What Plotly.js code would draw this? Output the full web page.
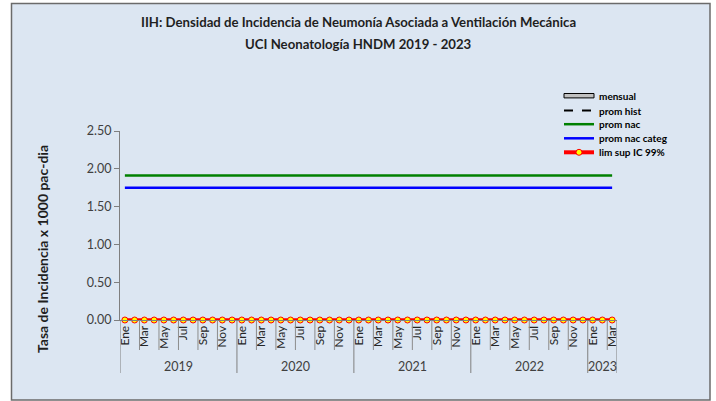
<!DOCTYPE html>
<html>
<head>
<meta charset="utf-8">
<script src="https://cdn.plot.ly/plotly-3.0.1.min.js"></script>
<style>html,body{margin:0;padding:0;background:#fff;}#chart{width:716px;height:401px;}</style>
</head>
<body>
<div id="chart"></div>
<script>
// ---- data ----
const monthNames = ['Ene','Feb','Mar','Abr','May','Jun','Jul','Ago','Sep','Oct','Nov','Dic'];
const years = ['2019','2020','2021','2022','2023'];
const monthsPerYear = [12, 12, 12, 12, 3];
const mensual = [0,0,0,0,0,0,0,0,0,0,0,0, 0,0,0,0,0,0,0,0,0,0,0,0, 0,0,0,0,0,0,0,0,0,0,0,0, 0,0,0,0,0,0,0,0,0,0,0,0, 0,0,0];
const promHist = [0,0,0,0,0,0,0,0,0,0,0,0, 0,0,0,0,0,0,0,0,0,0,0,0, 0,0,0,0,0,0,0,0,0,0,0,0, 0,0,0,0,0,0,0,0,0,0,0,0, 0,0,0];
const promNac = [1.91,1.91,1.91,1.91,1.91,1.91,1.91,1.91,1.91,1.91,1.91,1.91, 1.91,1.91,1.91,1.91,1.91,1.91,1.91,1.91,1.91,1.91,1.91,1.91, 1.91,1.91,1.91,1.91,1.91,1.91,1.91,1.91,1.91,1.91,1.91,1.91, 1.91,1.91,1.91,1.91,1.91,1.91,1.91,1.91,1.91,1.91,1.91,1.91, 1.91,1.91,1.91];
const promNacCateg = [1.75,1.75,1.75,1.75,1.75,1.75,1.75,1.75,1.75,1.75,1.75,1.75, 1.75,1.75,1.75,1.75,1.75,1.75,1.75,1.75,1.75,1.75,1.75,1.75, 1.75,1.75,1.75,1.75,1.75,1.75,1.75,1.75,1.75,1.75,1.75,1.75, 1.75,1.75,1.75,1.75,1.75,1.75,1.75,1.75,1.75,1.75,1.75,1.75, 1.75,1.75,1.75];
const limSup = [0,0,0,0,0,0,0,0,0,0,0,0, 0,0,0,0,0,0,0,0,0,0,0,0, 0,0,0,0,0,0,0,0,0,0,0,0, 0,0,0,0,0,0,0,0,0,0,0,0, 0,0,0];
const yTicks = [0, 0.5, 1.0, 1.5, 2.0, 2.5];
const titleLines = ['IIH: Densidad de Incidencia de Neumonía Asociada a Ventilación Mecánica', 'UCI Neonatología HNDM 2019 - 2023'];
const yTitle = 'Tasa de Incidencia x 1000 pac-dia';
const legendNames = ['mensual', 'prom hist', 'prom nac', 'prom nac categ', 'lim sup IC 99%'];

// ---- build categories ----
const xIdx = [];
const tickVals = [], tickText = [];
let k = 0;
monthsPerYear.forEach((n, yi) => {
  for (let m = 0; m < n; m++) {
    xIdx.push(k);
    if (m % 2 === 0) { tickVals.push(k); tickText.push(monthNames[m]); }
    k++;
  }
});
const N = xIdx.length;

// ---- geometry helpers (pixel -> paper) ----
const W = 716, H = 401;
const mL = 120, mR = 99, mT = 131, mB = 81;
const pw = W - mL - mR, ph = H - mT - mB;
const px = x => (x - mL) / pw;
const py = y => (H - mB - y) / ph;

const FONT = 'Lato, "Liberation Sans", Arial, sans-serif';
const TXT = '#404040';

const shapes = [];
const annotations = [];

// outer frame
shapes.push({type:'rect', xref:'paper', yref:'paper', x0:px(11.5), x1:px(710), y0:py(400), y1:py(3.5),
  fillcolor:'#DCE6F2', line:{color:'#6B6B6B', width:1.5}, layer:'below'});

// month tick separators & year separators
let start = 0;
const yearBounds = [-0.5];
monthsPerYear.forEach(n => { start += n; yearBounds.push(start - 0.5); });
for (let b = 0; b <= N; b += 2) {
  const xv = b - 0.5;
  if (yearBounds.indexOf(xv) >= 0) continue;
  shapes.push({type:'line', xref:'x', yref:'paper', x0:xv, x1:xv, y0:0, y1:py(350), line:{color:'#8C8C8C', width:1}});
}
yearBounds.forEach(xv => {
  shapes.push({type:'line', xref:'x', yref:'paper', x0:xv, x1:xv, y0:0, y1:py(373), line:{color:'#7F7F7F', width:1}});
});
// year labels
start = 0;
years.forEach((yr, i) => {
  const c = start + (monthsPerYear[i] - 1) / 2;
  start += monthsPerYear[i];
  annotations.push({xref:'x', yref:'paper', x:c, y:py(366), text:yr, showarrow:false,
    font:{family:FONT, size:12.5, color:TXT}, xanchor:'center', yanchor:'middle'});
});

// titles
annotations.push({xref:'paper', yref:'paper', x:px(358), y:py(22), text:'<b>'+titleLines[0]+'</b>', showarrow:false,
  font:{family:FONT, size:13.2, color:'#1F1F1F'}, xanchor:'center', yanchor:'middle'});
annotations.push({xref:'paper', yref:'paper', x:px(358), y:py(44), text:'<b>'+titleLines[1]+'</b>', showarrow:false,
  font:{family:FONT, size:13.2, color:'#1F1F1F'}, xanchor:'center', yanchor:'middle'});
annotations.push({xref:'paper', yref:'paper', x:px(42), y:py(249), text:'<b>'+yTitle+'</b>', showarrow:false, textangle:-90,
  font:{family:FONT, size:14, color:'#1F1F1F'}, xanchor:'center', yanchor:'middle'});

// manual legend
const legY = [95.7, 110.5, 124.2, 138.3, 152.3];
const lx0 = 564, lx1 = 594, ltx = 597;
shapes.push({type:'rect', xref:'paper', yref:'paper', x0:px(lx0), x1:px(lx1), y0:py(legY[0]+2.2), y1:py(legY[0]-2.2),
  fillcolor:'#C0C0C0', line:{color:'#000000', width:1}});
shapes.push({type:'line', xref:'paper', yref:'paper', x0:px(lx0), x1:px(lx1), y0:py(legY[1]), y1:py(legY[1]),
  line:{color:'#000000', width:2, dash:'dash'}});
shapes.push({type:'line', xref:'paper', yref:'paper', x0:px(lx0), x1:px(lx1), y0:py(legY[2]), y1:py(legY[2]),
  line:{color:'#008000', width:2.5}});
shapes.push({type:'line', xref:'paper', yref:'paper', x0:px(lx0), x1:px(lx1), y0:py(legY[3]), y1:py(legY[3]),
  line:{color:'#0000FF', width:2.5}});
shapes.push({type:'line', xref:'paper', yref:'paper', x0:px(lx0), x1:px(lx1), y0:py(legY[4]), y1:py(legY[4]),
  line:{color:'#FF0000', width:4}});
shapes.push({type:'circle', xref:'paper', yref:'paper', x0:px(579-3), x1:px(579+3), y0:py(legY[4]+3), y1:py(legY[4]-3),
  fillcolor:'#FFFF00', line:{color:'#FF0000', width:1}});
legendNames.forEach((nm, i) => {
  annotations.push({xref:'paper', yref:'paper', x:px(ltx), y:py(legY[i]), text:'<b>'+nm+'</b>', showarrow:false,
    font:{family:FONT, size:10, color:'#000000'}, xanchor:'left', yanchor:'middle'});
});

const traces = [
  {type:'bar', x:xIdx, y:mensual, name:legendNames[0], marker:{color:'#C0C0C0', line:{width:0}}, showlegend:false, hoverinfo:'skip'},
  {type:'scatter', mode:'lines', x:xIdx, y:promHist, name:legendNames[1], line:{color:'#000000', width:2, dash:'dash'}, showlegend:false, cliponaxis:false},
  {type:'scatter', mode:'lines', x:xIdx, y:promNac, name:legendNames[2], line:{color:'#008000', width:2.5}, showlegend:false},
  {type:'scatter', mode:'lines', x:xIdx, y:promNacCateg, name:legendNames[3], line:{color:'#0000FF', width:2.5}, showlegend:false},
  {type:'scatter', mode:'lines+markers', x:xIdx, y:limSup, name:legendNames[4], line:{color:'#FF0000', width:3.5},
    marker:{color:'#FFFF00', size:6, line:{color:'#FF0000', width:1}}, showlegend:false, cliponaxis:false}
];

const layout = {
  width: W, height: H,
  margin: {l:mL, r:mR, t:mT, b:mB, pad:0},
  paper_bgcolor: '#FFFFFF',
  plot_bgcolor: 'rgba(0,0,0,0)',
  showlegend: false,
  xaxis: {
    range: [-0.5, N - 0.5], tickmode:'array', tickvals:tickVals, ticktext:tickText, tickangle:-90,
    ticks:'', showgrid:false, zeroline:false, showline:true, linecolor:'#7F7F7F', linewidth:1,
    tickfont:{family:FONT, size:12, color:'#262626'}, fixedrange:true
  },
  yaxis: {
    range: [0, 2.5], tickmode:'array', tickvals:yTicks, tickformat:'.2f', ticks:'outside', ticklen:5,
    tickcolor:'#7F7F7F', showgrid:false, zeroline:false, showline:true, linecolor:'#7F7F7F', linewidth:1,
    tickfont:{family:FONT, size:12.5, color:TXT}, fixedrange:true
  },
  shapes: shapes,
  annotations: annotations,
  bargap: 0.5
};

Plotly.newPlot('chart', traces, layout, {displayModeBar:false, staticPlot:true});
</script>
</body>
</html>
